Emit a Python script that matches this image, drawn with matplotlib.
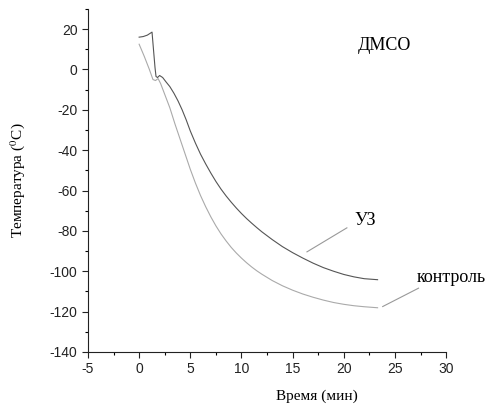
import matplotlib
matplotlib.use('Agg')
from matplotlib import pyplot as plt
from matplotlib.ticker import MultipleLocator

# УЗ (ultrasound) curve
uz_t = [0, 0.4, 0.8, 1.26, 1.4, 1.55, 1.65, 1.8, 2.0, 2.3, 2.6, 3.0, 3.4, 3.8,
        4.2, 4.6, 5.0, 5.5, 6.0, 6.5, 7.0, 7.5, 8.0, 8.5, 9.0, 9.5, 10, 10.5,
        11, 11.5, 12, 13, 14, 15, 16, 17, 18, 19, 20, 21, 22, 23.3]
uz_temp = [16, 16.3, 17, 18.5, 10, 1, -3.5, -4, -3, -4, -6, -8.5, -11.8, -15.6,
           -20, -25, -30.5, -36.5, -42, -46.8, -51.3, -55.5, -59.3, -62.7, -65.8,
           -68.7, -71.4, -73.9, -76.2, -78.4, -80.5, -84.3, -87.8, -90.8, -93.5,
           -96, -98.2, -100, -101.6, -102.8, -103.7, -104.2]

# контроль curve
ctrl_t = [0, 0.5, 1.0, 1.35, 1.6, 1.85, 2.1, 2.4, 2.7, 3.0, 3.5, 4.0, 4.5, 5.0,
          5.5, 6.0, 6.5, 7.0, 7.5, 8.0, 8.5, 9.0, 9.5, 10, 10.5, 11, 11.5, 12,
          13, 14, 15, 16, 17, 18, 19, 20, 21, 22, 23.3]
ctrl_temp = [12.5, 6.5, 0, -5, -5.5, -4.5, -7, -11, -15, -19, -27, -34.5, -42,
             -49.5, -56.3, -62.5, -68, -73, -77.5, -81.5, -85, -88.2, -91,
             -93.5, -95.8, -97.9, -99.8, -101.5, -104.6, -107.2, -109.4, -111.3,
             -112.9, -114.3, -115.5, -116.4, -117.1, -117.6, -118.1]

plt.rcParams['mathtext.fontset'] = 'stix'
plt.rcParams['axes.unicode_minus'] = False
serif = 'Liberation Serif'
sans = 'Liberation Sans'

fig = plt.figure(figsize=(4.86, 4.05), dpi=100)
ax = fig.add_axes([0.181, 0.131, 0.737, 0.847])

ax.plot(uz_t, uz_temp, color='#555555', lw=0.8)
ax.plot(ctrl_t, ctrl_temp, color='#aaaaaa', lw=0.8)

ax.set_xlim(-5, 30)
ax.set_ylim(-140, 30)
ax.xaxis.set_major_locator(MultipleLocator(5))
ax.xaxis.set_minor_locator(MultipleLocator(2.5))
ax.yaxis.set_minor_locator(MultipleLocator(10))
ax.set_yticks(range(-140, 21, 20))
ax.tick_params(which='major', direction='out', length=4, width=0.8,
               labelsize=10, colors='#222222')
ax.tick_params(which='minor', direction='out', length=2.5, width=0.8)
for lab in ax.get_xticklabels() + ax.get_yticklabels():
    lab.set_family(sans)
ax.spines['top'].set_visible(False)
ax.spines['right'].set_visible(False)
ax.spines['left'].set_color('#222222')
ax.spines['bottom'].set_color('#222222')

ax.set_xlabel('Время (мин)', family=serif, fontsize=11)
ax.set_ylabel('Температура ($^{0}$C)', family=serif, fontsize=11)
ax.xaxis.set_label_coords(0.64, -0.11)
ax.yaxis.set_label_coords(-0.17, 0.5)

ax.text(24, 12, 'ДМСО', family=serif, fontsize=13, ha='center', va='center')
ax.text(22.1, -75, 'УЗ', family=serif, fontsize=13, ha='center', va='center')
ax.text(30.5, -103, 'контроль', family=serif, fontsize=13, ha='center',
        va='center', clip_on=False)
ax.plot([16.4, 20.3], [-90.4, -78.5], color='#999999', lw=0.8)
ax.plot([23.8, 27.3], [-117.5, -108.4], color='#999999', lw=0.8)

fig.savefig('out.png', dpi=100)
